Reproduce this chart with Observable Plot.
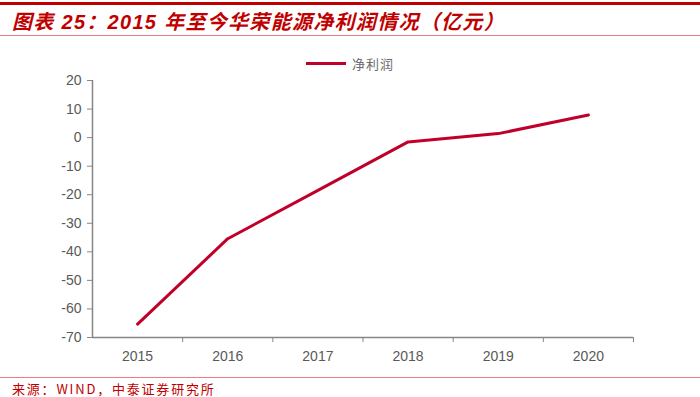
<!DOCTYPE html>
<html>
<head>
<meta charset="utf-8">
<script src="https://cdn.jsdelivr.net/npm/d3@7"></script>
<script src="https://cdn.jsdelivr.net/npm/@observablehq/plot@0.6"></script>
<style>
  html, body { margin: 0; padding: 0; background: #fff; }
  #wrap { position: relative; width: 700px; height: 397px; overflow: hidden; font-family: "Liberation Sans", Arial, sans-serif; }
  #topbar { position: absolute; left: 0; top: 2px; width: 700px; height: 3px; background: #C00000; }
  #title { position: absolute; left: 12px; top: 6px; font-family: "Liberation Sans", "Noto Sans CJK SC", sans-serif; font-size: 20px; letter-spacing: 1.3px; font-weight: bold; font-style: italic; color: #C00000; white-space: nowrap; }
  #titleline { position: absolute; left: 0; top: 35px; width: 700px; height: 1px; background: #E88080; }
  #legend { position: absolute; left: 306px; top: 54px; display: flex; align-items: center; font-family: "Noto Sans CJK SC", sans-serif; font-size: 13px; letter-spacing: 1px; color: #6a6a6a; }
  #legend .sw { width: 40px; height: 3px; background: #C0002A; margin-right: 6px; }
  #srcline { position: absolute; left: 0; top: 377px; width: 700px; height: 1px; background: #E88080; }
  #source { position: absolute; left: 12px; top: 379px; font-family: "Noto Sans CJK SC", sans-serif; font-size: 13px; letter-spacing: 1.8px; color: #C00000; white-space: nowrap; }
  #chart { position: absolute; left: 0; top: 0; }
</style>
</head>
<body>
<div id="wrap">
  <div id="chart"></div>
  <div id="topbar"></div>
  <div id="title">图表 25：2015 年至今华荣能源净利润情况（亿元）</div>
  <div id="titleline"></div>
  <div id="legend"><div class="sw"></div><span>净利润</span></div>
  <div id="srcline"></div>
  <div id="source">来源：WIND，中泰证券研究所</div>
</div>
<script>
const years = [2015, 2016, 2017, 2018, 2019, 2020];
const netProfit = [-65.3, -35.4, -18.5, -1.5, 1.4, 7.9];
const yTicks = [20, 10, 0, -10, -20, -30, -40, -50, -60, -70];

const data = years.map((y, i) => ({year: y, value: netProfit[i]}));
const boundaries = years.map(y => y + 0.5);
const axisColor = "#868686";
const textColor = "#595959";

const chart = Plot.plot({
  width: 700,
  height: 397,
  marginTop: 80,
  marginBottom: 60,
  marginLeft: 92,
  marginRight: 67,
  style: { fontFamily: "Liberation Sans, Arial, sans-serif", fontSize: "14px", color: textColor, background: "transparent" },
  x: { type: "linear", domain: [years[0] - 0.5, years[years.length - 1] + 0.5] },
  y: { domain: [-70, 20] },
  marks: [
    Plot.axisY({ ticks: yTicks, tickSize: 5, tickPadding: 6, tickFormat: d => String(d), stroke: axisColor, fill: textColor, label: null, fontSize: 14 }),
    Plot.axisX({ ticks: years, tickSize: 0, tickPadding: 14, tickFormat: d => String(d), fill: textColor, label: null, fontSize: 14 }),
    Plot.axisX({ ticks: boundaries, tickSize: 5, tickFormat: () => "", stroke: axisColor, label: null }),
    Plot.ruleX([years[0] - 0.5], { stroke: axisColor, strokeWidth: 1.5 }),
    Plot.ruleY([-70], { stroke: axisColor, strokeWidth: 1.5 }),
    Plot.line(data, { x: "year", y: "value", stroke: "#C0002A", strokeWidth: 3 })
  ]
});
document.getElementById("chart").appendChild(chart);
</script>
</body>
</html>
